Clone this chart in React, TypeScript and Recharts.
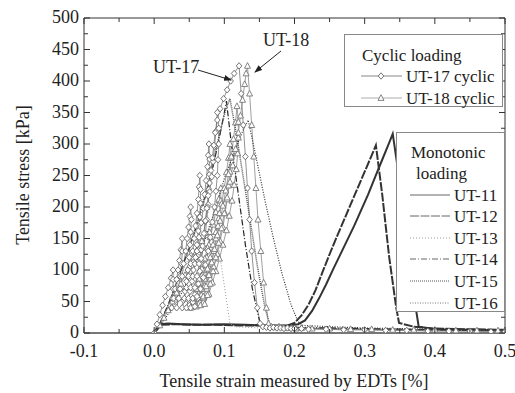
import React from 'react';
import { LineChart, Line, XAxis, YAxis } from 'recharts';

// strain [%], stress [kPa]
const ut17Cyclic = [
  [0, 0], [0.004, 14], [0.008, 29], [0.012, 44], [0.016, 58], [0.02, 72], [0.024, 87], [0.027, 100],
  [0.027, 85], [0.027, 70], [0.026, 55], [0.025, 40],
  [0.028, 55], [0.03, 70], [0.032, 85], [0.034, 100], [0.036, 115], [0.038, 132], [0.04, 150],
  [0.04, 130], [0.039, 110], [0.037, 90], [0.035, 70], [0.034, 55], [0.032, 40],
  [0.035, 55], [0.037, 70], [0.04, 90], [0.042, 110], [0.045, 130], [0.047, 150], [0.049, 168], [0.051, 185], [0.052, 200],
  [0.053, 180], [0.052, 160], [0.051, 140], [0.05, 120], [0.048, 100], [0.046, 82], [0.044, 66], [0.042, 52], [0.04, 40],
  [0.043, 55], [0.046, 72], [0.049, 90], [0.052, 110], [0.055, 130], [0.057, 150], [0.059, 170], [0.061, 190], [0.063, 212], [0.064, 232], [0.065, 250],
  [0.066, 228], [0.066, 206], [0.065, 184], [0.063, 162], [0.061, 140], [0.059, 120], [0.056, 100], [0.054, 82], [0.051, 66], [0.049, 52], [0.046, 40],
  [0.049, 55], [0.052, 72], [0.055, 90], [0.058, 110], [0.061, 130], [0.064, 152], [0.067, 175], [0.07, 198], [0.072, 220], [0.074, 242], [0.076, 264], [0.077, 282], [0.078, 300],
  [0.079, 276], [0.079, 252], [0.078, 228], [0.077, 204], [0.075, 180], [0.073, 158], [0.07, 136], [0.067, 115], [0.064, 95], [0.061, 77], [0.058, 61], [0.055, 49], [0.052, 40],
  [0.055, 55], [0.058, 72], [0.061, 90], [0.064, 110], [0.067, 132], [0.07, 154], [0.073, 177], [0.076, 200], [0.079, 224], [0.082, 248], [0.084, 272], [0.086, 296], [0.088, 320], [0.09, 350],
  [0.092, 325], [0.092, 300], [0.091, 275], [0.09, 250], [0.088, 225], [0.086, 200], [0.083, 176], [0.08, 152], [0.077, 130], [0.073, 108], [0.07, 88], [0.066, 70], [0.062, 55], [0.058, 42],
  [0.061, 58], [0.063, 78], [0.065, 98], [0.067, 118], [0.069, 138], [0.071, 158], [0.073, 178], [0.075, 198], [0.077, 218], [0.079, 238], [0.081, 258], [0.083, 278], [0.085, 298], [0.087, 318], [0.09, 338], [0.094, 356], [0.099, 372], [0.104, 386], [0.109, 400], [0.114, 412], [0.121, 424],
  [0.124, 380], [0.127, 330], [0.13, 280], [0.133, 230], [0.136, 180], [0.139, 130], [0.143, 80], [0.147, 40], [0.151, 15],
  [0.155, 10], [0.16, 9], [0.165, 8], [0.17, 9], [0.175, 8], [0.18, 8], [0.185, 7], [0.19, 8], [0.195, 7], [0.2, 7], [0.21, 7], [0.22, 6], [0.245, 6], [0.27, 5], [0.3, 5], [0.33, 4], [0.36, 4], [0.39, 3], [0.42, 3], [0.45, 3], [0.48, 2], [0.5, 2],
];

const ut18Cyclic = [
  [0.002, 0], [0.008, 12], [0.014, 24], [0.02, 36], [0.026, 50], [0.032, 64], [0.038, 78], [0.044, 92], [0.05, 106], [0.056, 120], [0.062, 134], [0.068, 146], [0.074, 155], [0.079, 160],
  [0.078, 140], [0.075, 120], [0.071, 100], [0.066, 80], [0.06, 62], [0.056, 50], [0.052, 40],
  [0.056, 55], [0.06, 70], [0.064, 86], [0.068, 102], [0.072, 118], [0.076, 135], [0.08, 152], [0.084, 172], [0.088, 192], [0.092, 212], [0.095, 230],
  [0.095, 210], [0.093, 190], [0.091, 170], [0.088, 150], [0.085, 130], [0.081, 110], [0.077, 92], [0.072, 75], [0.067, 60], [0.06, 42],
  [0.064, 55], [0.068, 70], [0.072, 86], [0.076, 102], [0.08, 120], [0.084, 140], [0.088, 160], [0.092, 182], [0.096, 205], [0.1, 230], [0.103, 255], [0.106, 278], [0.108, 300],
  [0.109, 278], [0.108, 256], [0.106, 234], [0.104, 212], [0.101, 190], [0.098, 168], [0.094, 146], [0.09, 125], [0.085, 105], [0.08, 86], [0.075, 70], [0.07, 56], [0.066, 44],
  [0.07, 58], [0.074, 74], [0.078, 92], [0.082, 112], [0.086, 133], [0.09, 155], [0.094, 178], [0.098, 202], [0.102, 226], [0.106, 252], [0.11, 280], [0.113, 308], [0.116, 334], [0.118, 360],
  [0.12, 335], [0.12, 310], [0.119, 285], [0.117, 260], [0.114, 235], [0.111, 210], [0.107, 186], [0.103, 163], [0.098, 140], [0.093, 118], [0.088, 98], [0.083, 80], [0.078, 62], [0.072, 46],
  [0.076, 60], [0.08, 78], [0.084, 98], [0.088, 120], [0.092, 143], [0.096, 166], [0.1, 190], [0.104, 215], [0.108, 240], [0.112, 266], [0.116, 292], [0.12, 318], [0.123, 345], [0.126, 370], [0.129, 395], [0.131, 412], [0.133, 424],
  [0.136, 380], [0.139, 330], [0.142, 280], [0.145, 230], [0.148, 180], [0.152, 130], [0.156, 80], [0.16, 40], [0.163, 15],
  [0.167, 10], [0.172, 9], [0.178, 10], [0.184, 9], [0.19, 8], [0.196, 8], [0.202, 7], [0.21, 8], [0.225, 7], [0.25, 7], [0.28, 6], [0.31, 6], [0.34, 5], [0.37, 5], [0.4, 5], [0.43, 4], [0.46, 4], [0.49, 4], [0.5, 4],
];

const ut11 = [
  [0, 0], [0.008, 14], [0.02, 15], [0.04, 14], [0.07, 13], [0.1, 14], [0.13, 13], [0.16, 12], [0.19, 12], [0.205, 14],
  [0.215, 20], [0.225, 35], [0.235, 55], [0.245, 77], [0.255, 101], [0.265, 124], [0.275, 147], [0.285, 170], [0.295, 195], [0.305, 220], [0.315, 248], [0.325, 275], [0.335, 302], [0.34, 316],
  [0.35, 240], [0.36, 150], [0.37, 60], [0.377, 10], [0.4, 6], [0.45, 5], [0.5, 4],
];
const ut12 = [
  [0, 0], [0.01, 13], [0.03, 14], [0.06, 13], [0.09, 13], [0.12, 12], [0.15, 12], [0.18, 11], [0.19, 12], [0.2, 16],
  [0.21, 28], [0.22, 45], [0.23, 68], [0.24, 97], [0.25, 125], [0.26, 152], [0.27, 178], [0.28, 204], [0.29, 230], [0.3, 256], [0.31, 282], [0.316, 298],
  [0.325, 220], [0.335, 120], [0.345, 40], [0.349, 16], [0.37, 10], [0.4, 7], [0.45, 6], [0.5, 5],
];
const ut13 = [
  [0, 0], [0.01, 18], [0.025, 55], [0.04, 95], [0.055, 135], [0.07, 175], [0.083, 205],
  [0.09, 150], [0.1, 75], [0.108, 15], [0.115, 10], [0.15, 8], [0.2, 7], [0.3, 5], [0.4, 4], [0.5, 3],
];
const ut14 = [
  [0, 0], [0.008, 15], [0.02, 45], [0.035, 90], [0.05, 135], [0.065, 185], [0.08, 245], [0.092, 305], [0.1, 350], [0.103, 368],
  [0.11, 300], [0.12, 220], [0.13, 140], [0.14, 70], [0.15, 20], [0.155, 12], [0.18, 10], [0.2, 9], [0.25, 8], [0.3, 7], [0.35, 6], [0.4, 5], [0.5, 4],
];
const ut15 = [
  [0, 0], [0.01, 18], [0.022, 50], [0.035, 88], [0.05, 135], [0.065, 190], [0.08, 250], [0.092, 310], [0.102, 355], [0.108, 372],
  [0.118, 310], [0.128, 240], [0.138, 170], [0.148, 100], [0.158, 40], [0.165, 12], [0.19, 9], [0.25, 7], [0.3, 6], [0.4, 5], [0.5, 4],
];
const ut16 = [
  [0, 0], [0.01, 14], [0.025, 38], [0.04, 65], [0.055, 100], [0.07, 140], [0.085, 190], [0.1, 245], [0.115, 290], [0.126, 320], [0.134, 338],
  [0.145, 280], [0.158, 210], [0.17, 150], [0.182, 95], [0.195, 45], [0.205, 18], [0.212, 12], [0.25, 10], [0.3, 8], [0.35, 7], [0.4, 6], [0.45, 5], [0.5, 5],
];

const xTicks = [-0.1, -0.05, 0, 0.05, 0.1, 0.15, 0.2, 0.25, 0.3, 0.35, 0.4, 0.45, 0.5];
const yTicks = [0, 25, 50, 75, 100, 125, 150, 175, 200, 225, 250, 275, 300, 325, 350, 375, 400, 425, 450, 475, 500];

const monotonic = [
  { name: 'UT-11', data: ut11, color: '#333', width: 2, dash: undefined, legendColor: '#999', legendWidth: 1.5 },
  { name: 'UT-12', data: ut12, color: '#333', width: 2, dash: '9 1.5', legendColor: '#666', legendWidth: 1 },
  { name: 'UT-13', data: ut13, color: '#999', width: 1, dash: '1 2', legendColor: '#999', legendWidth: 1 },
  { name: 'UT-14', data: ut14, color: '#222', width: 1.2, dash: '6 2 1 2', legendColor: '#666', legendWidth: 1 },
  { name: 'UT-15', data: ut15, color: '#555', width: 1.5, dash: '1 1', legendColor: '#aaa', legendWidth: 2 },
  { name: 'UT-16', data: ut16, color: '#333', width: 1.2, dash: '1 1.5', legendColor: '#777', legendWidth: 1 },
];

const FONT = '"Liberation Serif", "Times New Roman", Times, serif';

const toPts = (a: number[][]) => a.map(([x, y]) => ({ x, y }));
const isMajor = (v: number, step: number) => Math.abs(v / step - Math.round(v / step)) < 1e-6;

const diamondPath = (cx: number, cy: number) => `M${cx},${cy - 3.2}L${cx + 2.8},${cy}L${cx},${cy + 3.2}L${cx - 2.8},${cy}Z`;
const trianglePath = (cx: number, cy: number) => `M${cx},${cy - 3.3}L${cx + 3},${cy + 2.4}L${cx - 3},${cy + 2.4}Z`;

const DiamondDot = (p: any) => {
  if (p.cx == null || p.cy == null) return <g key={`d${p.index}`} />;
  return <path key={`d${p.index}`} d={diamondPath(p.cx, p.cy)} fill="#fff" stroke="#666" strokeWidth={0.9} />;
};
const TriangleDot = (p: any) => {
  if (p.cx == null || p.cy == null) return <g key={`t${p.index}`} />;
  return <path key={`t${p.index}`} d={trianglePath(p.cx, p.cy)} fill="#fff" stroke="#777" strokeWidth={0.9} />;
};

const BottomTick = ({ x, y, payload }: any) => {
  const major = isMajor(payload.value, 0.1);
  return (
    <g>
      <line x1={x} x2={x} y1={y} y2={y - (major ? 6 : 4)} stroke="#333" />
      {major && (
        <text x={x} y={y + 24} textAnchor="middle" fontSize={18} fill="#222" fontFamily={FONT}>
          {payload.value.toFixed(1)}
        </text>
      )}
    </g>
  );
};
const TopTick = ({ x, y, payload }: any) => {
  const major = isMajor(payload.value, 0.1);
  return <line x1={x} x2={x} y1={y} y2={y + (major ? 6 : 4)} stroke="#333" />;
};
const LeftTick = ({ x, y, payload }: any) => {
  const major = isMajor(payload.value, 50);
  return (
    <g>
      <line x1={x} x2={x + (major ? 6 : 4)} y1={y} y2={y} stroke="#333" />
      {major && (
        <text x={x - 5} y={y + 5} textAnchor="end" fontSize={18} fill="#222" fontFamily={FONT}>
          {payload.value}
        </text>
      )}
    </g>
  );
};
const RightTick = ({ x, y, payload }: any) => {
  const major = isMajor(payload.value, 50);
  return <line x1={x} x2={x - (major ? 6 : 4)} y1={y} y2={y} stroke="#333" />;
};

const legendEntryY = [195, 216, 238, 259, 281, 303];

export default function App() {
  return (
    <div style={{ position: 'absolute', left: 0, top: 0, width: 515, height: 393, background: '#fff', fontFamily: FONT }}>
      <LineChart width={515} height={393} margin={{ top: 17, right: 9, bottom: 30, left: 0 }}>
        <XAxis dataKey="x" type="number" domain={[-0.1, 0.5]} ticks={xTicks} interval={0} allowDataOverflow height={30}
          tickSize={0} tickMargin={0} tickLine={false} tick={<BottomTick />} axisLine={{ stroke: '#777', strokeWidth: 2 }} />
        <XAxis xAxisId="top" orientation="top" dataKey="x" type="number" domain={[-0.1, 0.5]} ticks={xTicks} interval={0} allowDataOverflow height={1}
          tickSize={0} tickMargin={0} tickLine={false} tick={<TopTick />} axisLine={{ stroke: '#333' }} />
        <YAxis type="number" domain={[0, 500]} ticks={yTicks} interval={0} allowDataOverflow width={84}
          tickSize={0} tickMargin={0} tickLine={false} tick={<LeftTick />} axisLine={{ stroke: '#333' }} />
        <YAxis yAxisId="right" orientation="right" type="number" domain={[0, 500]} ticks={yTicks} interval={0} allowDataOverflow width={1}
          tickSize={0} tickMargin={0} tickLine={false} tick={<RightTick />} axisLine={{ stroke: '#333' }} />
        <Line data={toPts(ut18Cyclic)} dataKey="y" name="UT-18 cyclic" type="linear" stroke="#888" strokeWidth={0.8}
          dot={TriangleDot} isAnimationActive={false} />
        <Line data={toPts(ut17Cyclic)} dataKey="y" name="UT-17 cyclic" type="linear" stroke="#777" strokeWidth={0.8}
          dot={DiamondDot} isAnimationActive={false} />
        {monotonic.map((s) => (
          <Line key={s.name} data={toPts(s.data)} dataKey="y" name={s.name} type="linear" stroke={s.color}
            strokeWidth={s.width} strokeDasharray={s.dash} dot={false} isAnimationActive={false} />
        ))}
      </LineChart>

      <svg width={515} height={393} style={{ position: 'absolute', left: 0, top: 0, pointerEvents: 'none' }} fontFamily={FONT}>
        <defs>
          <marker id="arr" markerWidth="8" markerHeight="6" refX="7" refY="3" orient="auto" markerUnits="userSpaceOnUse">
            <path d="M0,0L8,3L0,6Z" fill="#222" />
          </marker>
        </defs>
        {/* axis titles */}
        <text x={294} y={387} textAnchor="middle" fontSize={18} fill="#222">Tensile strain measured by EDTs [%]</text>
        <text transform="translate(29,175) rotate(-90)" textAnchor="middle" fontSize={18} fill="#222">Tensile stress [kPa]</text>

        {/* annotations */}
        <text x={153} y={73} fontSize={18} fill="#222">UT-17</text>
        <line x1={198} y1={70} x2={231} y2={80} stroke="#222" strokeWidth={1} markerEnd="url(#arr)" />
        <text x={263} y={46} fontSize={18} fill="#222">UT-18</text>
        <line x1={281} y1={51} x2={255} y2={72} stroke="#222" strokeWidth={1} markerEnd="url(#arr)" />

        {/* cyclic legend */}
        <rect x={344.5} y={34.5} width={158} height={72} fill="#fff" stroke="#888" />
        <text x={362} y={61} fontSize={17} fill="#222">Cyclic loading</text>
        <line x1={361} x2={402} y1={76} y2={76} stroke="#888" strokeWidth={1.2} />
        <path d={diamondPath(381, 76)} fill="#fff" stroke="#666" strokeWidth={0.9} />
        <text x={406} y={82} fontSize={17} fill="#222">UT-17 cyclic</text>
        <line x1={361} x2={402} y1={98} y2={98} stroke="#999" strokeWidth={0.8} />
        <path d={trianglePath(381, 98)} fill="#fff" stroke="#777" strokeWidth={0.9} />
        <text x={406} y={104} fontSize={17} fill="#222">UT-18 cyclic</text>

        {/* monotonic legend */}
        <rect x={396.5} y={132.5} width={108} height={179} fill="#fff" stroke="#888" />
        <text x={411} y={158} fontSize={17} fill="#222">Monotonic</text>
        <text x={416} y={179} fontSize={17} fill="#222">loading</text>
        {monotonic.map((s, i) => (
          <g key={s.name}>
            <line x1={410} x2={450} y1={legendEntryY[i]} y2={legendEntryY[i]} stroke={s.legendColor}
              strokeWidth={s.legendWidth} strokeDasharray={s.dash} />
            <text x={454} y={legendEntryY[i] + 6} fontSize={17} fill="#222">{s.name}</text>
          </g>
        ))}
      </svg>
    </div>
  );
}
